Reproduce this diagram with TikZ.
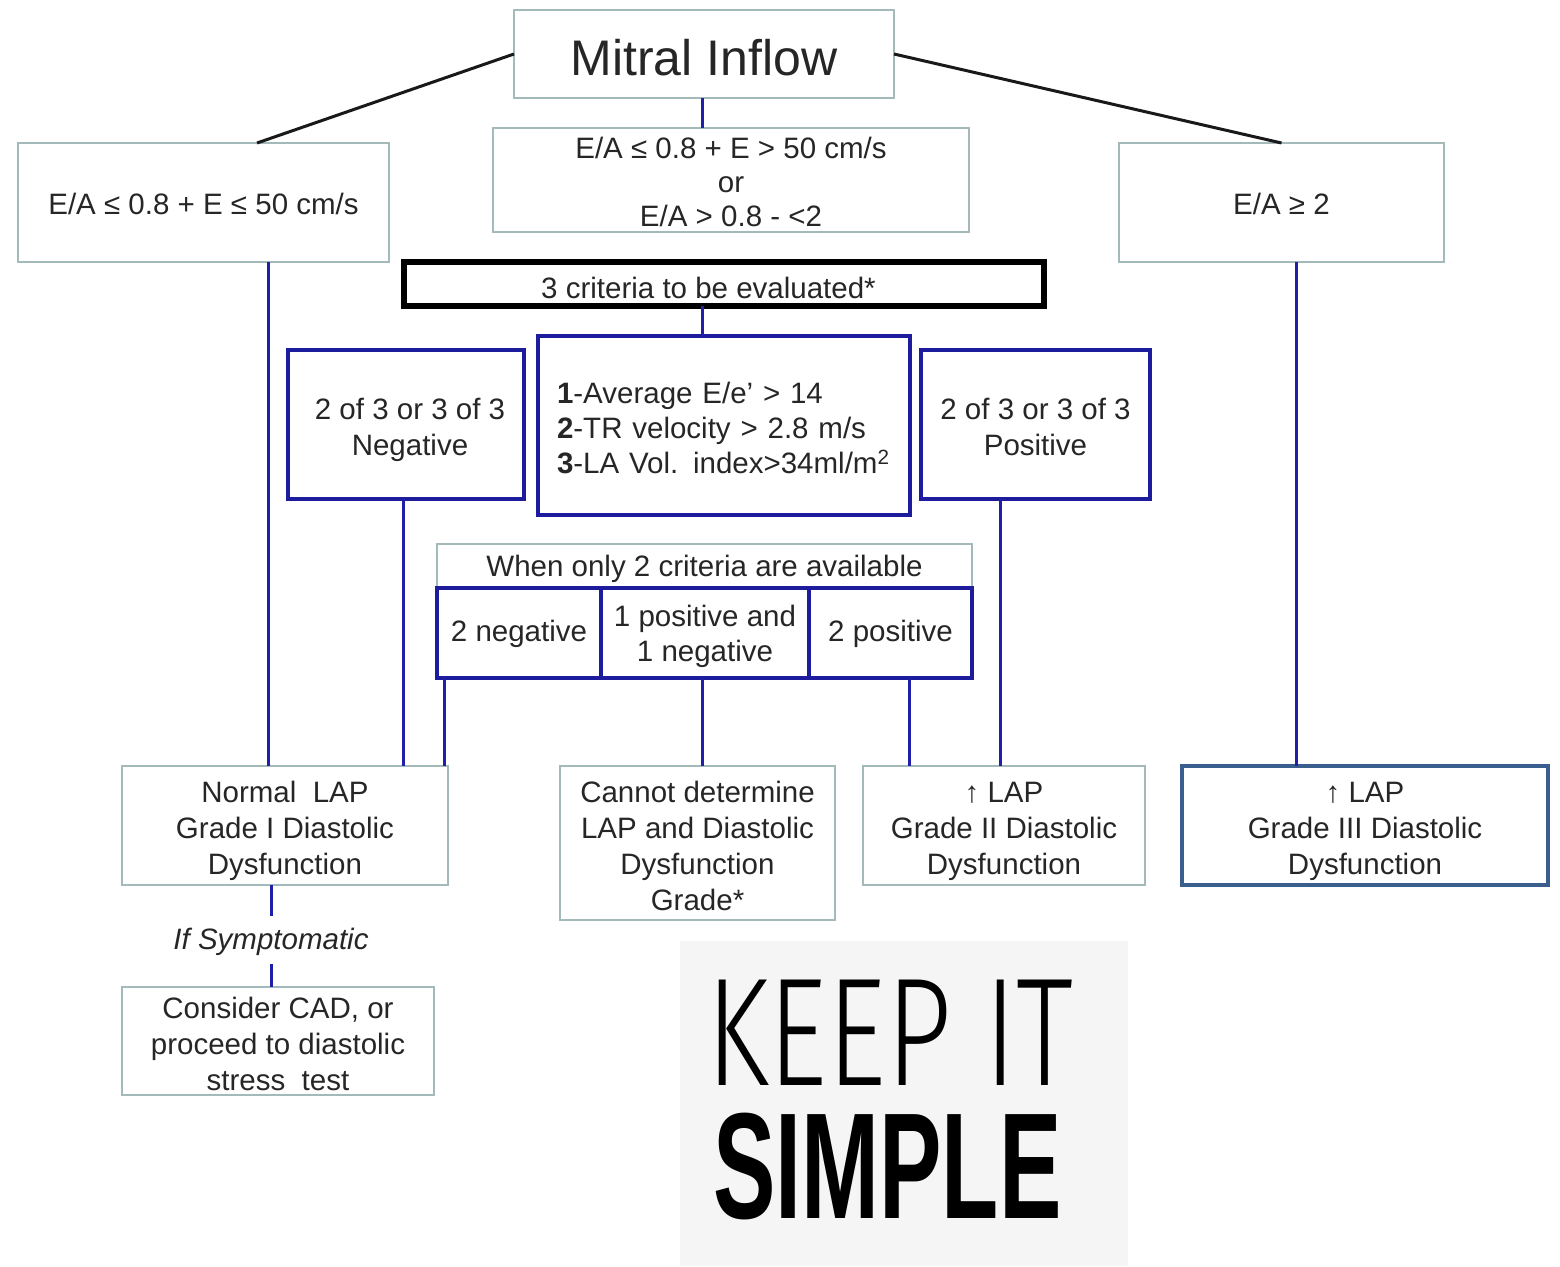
\documentclass[tikz,border=0pt]{standalone}
\usepackage{fontspec}
\setmainfont{Liberation Sans}
\newfontfamily\slimfont{Fira Sans Light}
\usetikzlibrary{calc}

\definecolor{boxgray}{HTML}{A4B9B9}
\definecolor{linkblue}{HTML}{1F1FAA}
\definecolor{thickblue}{HTML}{1C1C9C}
\definecolor{steelblue}{HTML}{3A5E8E}
\definecolor{kisbg}{HTML}{F5F5F5}

% box text: lines stacked at the current baselineskip, lowered by #2 pt
\newcommand\tx[3][c]{\raisebox{-#2pt}[\height][\depth]{\begin{tabular}{@{}#1@{}}#3\end{tabular}}}

\begin{document}
\begin{tikzpicture}[x=1pt,y=-1pt,
  every node/.style={inner sep=0pt, outer sep=0pt, align=center,
    font=\fontsize{29.5}{36}\selectfont, text=black!85},
  sized/.style 2 args={minimum width=#1, minimum height=#2},
  graybox/.style={draw=boxgray, line width=2pt},
  bluebox/.style={draw=thickblue, line width=4.5pt},
  blackbox/.style={draw=black, line width=5.5pt},
  steelbox/.style={draw=steelblue, line width=4pt},
  branch/.style={draw=black!90, line width=3pt},
  link/.style={draw=linkblue, line width=3pt}]

\useasboundingbox (0,0) rectangle (1560,1266);

% top level
\node[graybox, sized={380}{88}, font=\fontsize{50}{60}\selectfont] (mitral) at (704,54)
  {\tx{9}{Mitral Inflow}};

\node[graybox, sized={371}{119}] (ea1) at (203.5,202.5) {\tx{5}{E/A ≤ 0.8 + E ≤ 50 cm/s}};
\node[graybox, sized={476}{104}, font=\fontsize{29.5}{34}\selectfont] (ea2) at (731,180)
  {\tx{6}{E/A ≤ 0.8 + E > 50 cm/s\\or\\E/A > 0.8 - <2}};
\node[graybox, sized={325}{119}] (ea3) at (1281.5,202.5) {\tx{5}{E/A ≥ 2}};

% criteria block
\node[blackbox, sized={640}{44}] (crit) at (724,284)
  {\tx{7.5}{\hspace*{-31pt}3 criteria to be evaluated*}};
\node[bluebox, sized={372}{179}, text width=334, align=left,
      font=\fontsize{29.5}{35}\selectfont] (list) at (724,425.5)
  {\tx[l]{5.7}{\textbf{1}-Average E/e’ > 14\\
   \textbf{2}-TR velocity > 2.8 m/s\\
   \textbf{3}-LA Vol. index>34ml/m\textsuperscript{2}}};
\node[bluebox, sized={236}{149}] (neg) at (406,424.5)
  {\tx{6}{\hspace*{8pt}2 of 3 or 3 of 3\\\hspace*{8pt}Negative}};
\node[bluebox, sized={229}{149}] (pos) at (1035.5,424.5) {\tx{6}{2 of 3 or 3 of 3\\Positive}};

% two-criteria table
\node[graybox, sized={535}{44}] (two) at (704.5,566) {\tx{3.5}{When only 2 criteria are available}};
\node[bluebox, sized={164}{90}] (tneg) at (519,633) {\tx{1.5}{2 negative}};
\node[bluebox, sized={208}{90}, font=\fontsize{29.5}{35}\selectfont] (tmix) at (705,633)
  {\tx{4}{1 positive and\\1 negative}};
\node[bluebox, sized={163}{90}] (tpos) at (890.5,633) {\tx{1.5}{2 positive}};

% outcomes
\node[graybox, sized={326}{119}] (normal) at (285,825.5)
  {\tx{5.6}{Normal\ \ LAP\\Grade I Diastolic\\Dysfunction}};
\node[graybox, sized={275}{154}] (undet) at (697.5,843)
  {\tx{6.4}{Cannot determine\\LAP and Diastolic\\Dysfunction\\Grade*}};
\node[graybox, sized={282}{119}] (grade2) at (1004,825.5)
  {\tx{6}{↑ LAP\\Grade II Diastolic\\Dysfunction}};
\node[steelbox, sized={366}{119}] (grade3) at (1365,825.5)
  {\tx{6}{↑ LAP\\Grade III Diastolic\\Dysfunction}};

\node (sympt) at (271,942) {\itshape If Symptomatic};
\node[graybox, sized={312}{103}] (cad) at (278,1040.5)
  {\tx{6.4}{Consider CAD, or\\proceed to diastolic\\stress\ \ test}};

% slogan panel: thin condensed first line, bold condensed second line
\node[fill=kisbg, sized={448}{325}] (kis) at (904,1103.5) {};
\node[anchor=base west, align=left, text=black] (slogan) at (713,1218)
  {\vbox{\baselineskip=133pt \lineskiplimit=-300pt \lineskip=0pt
     \hbox{\kern-7pt\fontsize{154}{160}\slimfont\scalebox{0.746}[1]{KEEP IT}}
     \hbox{\fontsize{151}{155}\selectfont\bfseries\scalebox{0.62}[1]{SIMPLE}}}};

% column positions of the vertical links
\coordinate (c1) at (268,0);
\coordinate (c2) at (403,0);
\coordinate (c3) at (444,0);
\coordinate (c4) at (702,0);
\coordinate (c5) at (909,0);
\coordinate (c6) at (1000,0);
\coordinate (c7) at (1296,0);
\coordinate (c8) at (271,0);
\coordinate (c9) at (257,0);

% branches from the mitral inflow box
\draw[branch] (mitral.west) -- (ea1.north -| c9);
\draw[branch] (mitral.east) -- (ea3.north);
\draw[link] (mitral.south -| c4) -- (ea2.north -| c4);
\draw[link] (crit.south -| c4) -- (list.north -| c4);

% links down to the outcomes
\draw[link] (ea1.south -| c1) -- (normal.north -| c1);
\draw[link] (neg.south -| c2) -- (normal.north -| c2);
\draw[link] (tneg.south -| c3) -- (normal.north -| c3);
\draw[link] (tmix.south -| c4) -- (undet.north -| c4);
\draw[link] (tpos.south -| c5) -- (grade2.north -| c5);
\draw[link] (pos.south -| c6) -- (grade2.north -| c6);
\draw[link] (ea3.south -| c7) -- (grade3.north -| c7);

% optional step below the grade I outcome
\draw[link] (normal.south -| c8) -- ([yshift=12pt]sympt.north -| c8);
\draw[link] ([yshift=-8pt]sympt.south -| c8) -- (cad.north -| c8);
\end{tikzpicture}
\end{document}
